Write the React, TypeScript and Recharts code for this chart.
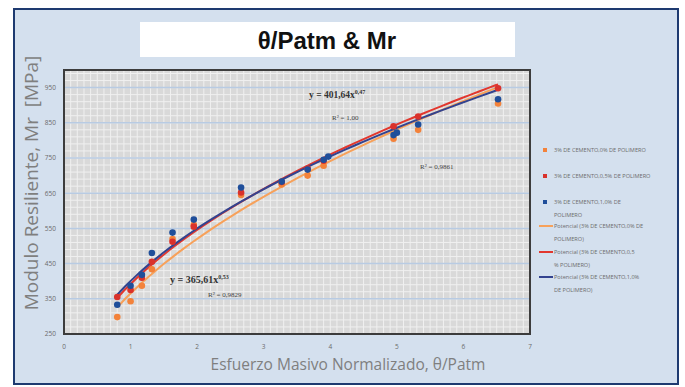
import React from "react";
import {
  ComposedChart,
  Scatter,
  Line,
  XAxis,
  YAxis,
  CartesianGrid,
  ReferenceArea,
} from "recharts";

// Normalised bulk stress θ/Patm vs resilient modulus Mr [MPa]
const X_TICKS = [0, 1, 2, 3, 4, 5, 6, 7];
const Y_TICKS = [250, 350, 450, 550, 650, 750, 850, 950];
const X_DOMAIN: [number, number] = [0, 7];
const Y_DOMAIN: [number, number] = [250, 1000];

const cemento0 = [
  { x: 0.8, y: 298 }, { x: 1.0, y: 343 }, { x: 1.17, y: 387 }, { x: 1.32, y: 434 },
  { x: 1.63, y: 520 }, { x: 1.95, y: 560 }, { x: 2.66, y: 645 }, { x: 3.27, y: 675 },
  { x: 3.66, y: 700 }, { x: 3.9, y: 728 }, { x: 4.95, y: 805 }, { x: 5.32, y: 830 },
  { x: 6.52, y: 905 },
];
const cemento05 = [
  { x: 0.8, y: 355 }, { x: 1.0, y: 375 }, { x: 1.17, y: 410 }, { x: 1.32, y: 455 },
  { x: 1.63, y: 512 }, { x: 1.95, y: 555 }, { x: 2.66, y: 652 }, { x: 3.27, y: 682 },
  { x: 3.66, y: 720 }, { x: 3.9, y: 742 }, { x: 4.95, y: 840 }, { x: 5.32, y: 868 },
  { x: 6.52, y: 948 },
];
const cemento10 = [
  { x: 0.8, y: 333 }, { x: 1.0, y: 387 }, { x: 1.17, y: 418 }, { x: 1.32, y: 480 },
  { x: 1.63, y: 538 }, { x: 1.95, y: 575 }, { x: 2.66, y: 666 }, { x: 3.27, y: 683 },
  { x: 3.66, y: 717 }, { x: 3.9, y: 745 }, { x: 3.97, y: 754 }, { x: 4.95, y: 815 },
  { x: 5.0, y: 822 }, { x: 5.32, y: 845 }, { x: 6.52, y: 917 },
];

const LEGEND_LABELS = [
  ["3% DE CEMENTO,0% DE POLIMERO"],
  ["3% DE CEMENTO,0,5% DE POLIMERO"],
  ["3% DE CEMENTO,1,0% DE", "POLIMERO"],
  ["Potencial (3% DE CEMENTO,0% DE", "POLIMERO)"],
  ["Potencial (3% DE CEMENTO,0,5", "% POLIMERO)"],
  ["Potencial (3% DE CEMENTO,1,0%", "DE POLIMERO)"],
];

const ORANGE = "#f3823a";
const RED = "#d9322c";
const BLUE = "#1f4e9a";
const ORANGE_LINE = "#f7a15a";
const RED_LINE = "#e2372e";
const BLUE_LINE = "#33438f";

// Least-squares power trendline (y = a·x^b), evaluated over the series' x range
function powerTrend(pts: { x: number; y: number }[]) {
  const n = pts.length;
  let sx = 0, sy = 0, sxx = 0, sxy = 0;
  pts.forEach((p) => {
    const lx = Math.log(p.x), ly = Math.log(p.y);
    sx += lx; sy += ly; sxx += lx * lx; sxy += lx * ly;
  });
  const b = (n * sxy - sx * sy) / (n * sxx - sx * sx);
  const a = Math.exp((sy - b * sx) / n);
  const xs = pts.map((p) => p.x);
  const lo = Math.min(...xs), hi = Math.max(...xs);
  const out = [] as { x: number; y: number }[];
  const steps = 40;
  for (let i = 0; i <= steps; i++) {
    const x = lo + ((hi - lo) * i) / steps;
    out.push({ x, y: a * Math.pow(x, b) });
  }
  return out;
}

const trend0 = powerTrend(cemento0);
const trend05 = powerTrend(cemento05);
const trend10 = powerTrend(cemento10);

// minor grid every 0.1 on x and every 20 MPa on y
const minorX = Array.from({ length: 71 }, (_, i) => i / 10);
const minorY = Array.from({ length: 38 }, (_, i) => 250 + i * 20);

const Dot = (color: string) => (props: any) => (
  <circle cx={props.cx} cy={props.cy} r={3.3} fill={color} />
);

const tickStyle = { fontSize: 6.5, fill: "#6b6b6b", fontFamily: "Open Sans" };

const verticalGen = (args: any) => {
  const { xAxis, offset } = args || {};
  if (xAxis && typeof xAxis.scale === "function") return minorX.map((v) => xAxis.scale(v));
  return minorX.map((v) => offset.left + ((v - X_DOMAIN[0]) / (X_DOMAIN[1] - X_DOMAIN[0])) * offset.width);
};
const horizontalGen = (args: any) => {
  const { yAxis, offset } = args || {};
  if (yAxis && typeof yAxis.scale === "function") return minorY.map((v) => yAxis.scale(v));
  return minorY.map(
    (v) => offset.top + offset.height - ((v - Y_DOMAIN[0]) / (Y_DOMAIN[1] - Y_DOMAIN[0])) * offset.height
  );
};
const majorGen = (args: any) => {
  const { yAxis, offset } = args || {};
  if (yAxis && typeof yAxis.scale === "function") return Y_TICKS.map((v) => yAxis.scale(v));
  return Y_TICKS.map(
    (v) => offset.top + offset.height - ((v - Y_DOMAIN[0]) / (Y_DOMAIN[1] - Y_DOMAIN[0])) * offset.height
  );
};

const legendItems = [
  { color: ORANGE, kind: "dot" },
  { color: RED, kind: "dot" },
  { color: BLUE, kind: "dot" },
  { color: ORANGE_LINE, kind: "line" },
  { color: RED_LINE, kind: "line" },
  { color: BLUE_LINE, kind: "line" },
];
const legendTops = [146, 172, 198, 222, 248, 273];

export default function App() {
  return (
    <div style={{ position: "absolute", left: 0, top: 0, width: 685, height: 387, background: "#ffffff" }}>
      <div
        style={{
          position: "absolute",
          left: 13,
          top: 8,
          width: 662,
          height: 373,
          border: "2px solid #1e3a70",
          background: "#d4e0ee",
        }}
      />
      <div
        style={{
          position: "absolute",
          left: 140,
          top: 22,
          width: 375,
          height: 35,
          background: "#ffffff",
        }}
      />
      <ComposedChart
        width={685}
        height={387}
        style={{ position: "absolute", left: 0, top: 0 }}
        margin={{ top: 70, right: 155, bottom: 33, left: 44 }}
      >
        <CartesianGrid
          fill="#d9d9d9"
          stroke="#f0f0f0"
          strokeWidth={1}
          verticalCoordinatesGenerator={verticalGen}
          horizontalCoordinatesGenerator={horizontalGen}
        />
        <CartesianGrid
          stroke="#b8cbe3"
          strokeWidth={1.5}
          vertical={false}
          horizontalCoordinatesGenerator={majorGen}
        />
        <XAxis
          type="number"
          dataKey="x"
          domain={X_DOMAIN}
          ticks={X_TICKS}
          height={20}
          axisLine={false}
          tickLine={false}
          tickSize={0}
          tickMargin={10}
          tick={tickStyle}
          allowDataOverflow
        />
        <YAxis
          type="number"
          dataKey="y"
          domain={Y_DOMAIN}
          ticks={Y_TICKS}
          width={20}
          axisLine={false}
          tickLine={false}
          tickSize={0}
          tickMargin={8}
          tick={tickStyle}
          allowDataOverflow
        />
        <ReferenceArea x1={0} x2={7} y1={250} y2={1000} fill="none" stroke="#3c3c3c" strokeWidth={2} />
        <Scatter data={cemento0} fill={ORANGE} shape={Dot(ORANGE)} isAnimationActive={false} />
        <Scatter data={cemento05} fill={RED} shape={Dot(RED)} isAnimationActive={false} />
        <Scatter data={cemento10} fill={BLUE} shape={Dot(BLUE)} isAnimationActive={false} />
        <Line data={trend0} dataKey="y" type="monotone" stroke={ORANGE_LINE} strokeWidth={2} dot={false} isAnimationActive={false} />
        <Line data={trend05} dataKey="y" type="monotone" stroke={RED_LINE} strokeWidth={2} dot={false} isAnimationActive={false} />
        <Line data={trend10} dataKey="y" type="monotone" stroke={BLUE_LINE} strokeWidth={2} dot={false} isAnimationActive={false} />
      </ComposedChart>

      <svg width={685} height={387} style={{ position: "absolute", left: 0, top: 0, pointerEvents: "none" }}>
        <text
          x={327}
          y={49}
          textAnchor="middle"
          fontFamily="Liberation Sans Narrow, Liberation Sans, Arial"
          fontWeight="bold"
          fontSize={24}
          fill="#111"
        >
          θ/Patm &amp; Mr
        </text>
        <text
          x={0}
          y={0}
          transform="translate(38,183) rotate(-90)"
          textAnchor="middle"
          fontFamily="Open Sans"
          fontSize={19}
          fill="#7f7f7f"
        >
          {"Modulo Resiliente, Mr\u00a0\u00a0[MPa]"}
        </text>
        <text x={348} y={370} textAnchor="middle" fontFamily="Open Sans" fontSize={15.5} fill="#7f7f7f">
          Esfuerzo Masivo Normalizado, θ/Patm
        </text>

        <text x={309} y={98} fontFamily="Liberation Serif, serif" fontWeight="bold" fontSize={9.5} fill="#333">
          y = 401,64x<tspan dy={-4} fontSize={6}>0,47</tspan>
        </text>
        <text x={332} y={120} fontFamily="Liberation Serif, serif" fontSize={7} fill="#444">
          R² = 1,00
        </text>
        <text x={420} y={169} fontFamily="Liberation Serif, serif" fontSize={7} fill="#444">
          R² = 0,9861
        </text>
        <text x={170} y={283} fontFamily="Liberation Serif, serif" fontWeight="bold" fontSize={10} fill="#333">
          y = 365,61x<tspan dy={-4} fontSize={6}>0,53</tspan>
        </text>
        <text x={208} y={297} fontFamily="Liberation Serif, serif" fontSize={7} fill="#444">
          R² = 0,9829
        </text>

        {legendItems.map((it, i) => {
          const top = legendTops[i];
          const lines = LEGEND_LABELS[i];
          return (
            <g key={i}>
              {it.kind === "dot" ? (
                <rect x={543} y={top + 2} width={4} height={4} fill={it.color} />
              ) : (
                <line x1={539} x2={553} y1={top + 4} y2={top + 4} stroke={it.color} strokeWidth={2} />
              )}
              {lines.map((l, j) => (
                <text
                  key={j}
                  x={554}
                  y={top + 6 + j * 12.5}
                  fontFamily="Open Sans"
                  fontSize={5.6}
                  fill="#6d6d6d"
                >
                  {l}
                </text>
              ))}
            </g>
          );
        })}
      </svg>
    </div>
  );
}
